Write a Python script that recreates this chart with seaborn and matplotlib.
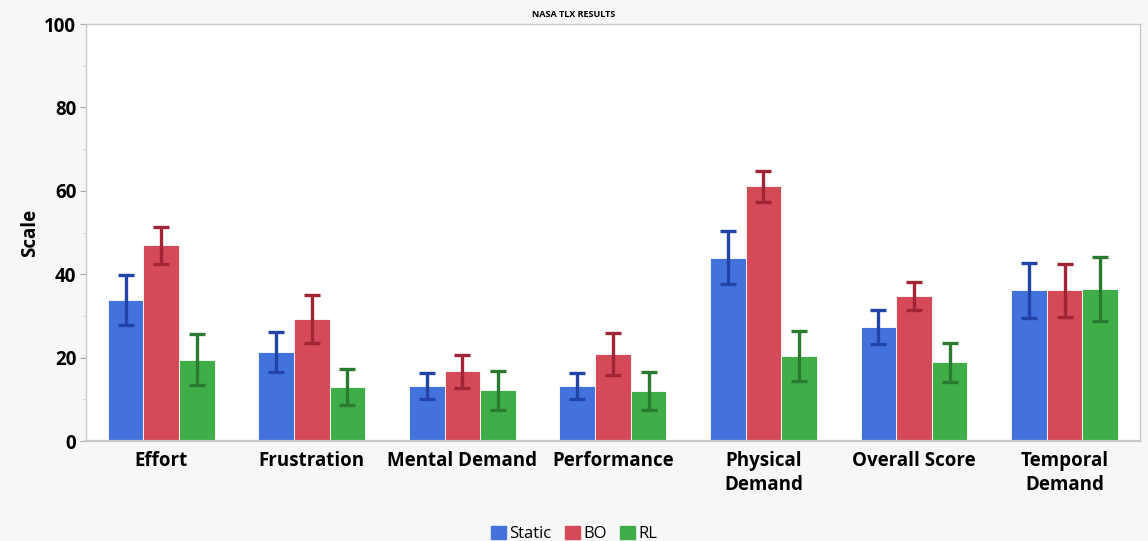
import numpy as np
import pandas as pd
import seaborn as sns
import matplotlib.pyplot as plt
from matplotlib.ticker import MultipleLocator

# values
categories = ["Effort", "Frustration", "Mental Demand", "Performance",
              "Physical\nDemand", "Overall Score", "Temporal\nDemand"]
groups = ["Static", "BO", "RL"]

static_mean = [33.8, 21.4, 13.2, 13.2, 44.0, 27.3, 36.1]
static_err = [6.0, 4.8, 3.2, 3.2, 6.3, 4.1, 6.6]
bo_mean = [46.9, 29.2, 16.7, 20.8, 61.1, 34.8, 36.1]
bo_err = [4.4, 5.8, 3.9, 5.0, 3.7, 3.3, 6.4]
rl_mean = [19.5, 12.9, 12.2, 12.0, 20.3, 18.9, 36.4]
rl_err = [6.1, 4.3, 4.7, 4.5, 6.0, 4.7, 7.7]

bar_colors = ["#4472dc", "#d44a58", "#3fae48"]
err_colors = ["#2244a8", "#a02535", "#2a7a32"]

df = pd.DataFrame({
    "Category": categories * 3,
    "Group": [g for g in groups for _ in categories],
    "Scale": static_mean + bo_mean + rl_mean,
})
errs = [static_err, bo_err, rl_err]

sns.set_style("white")
plt.rcParams["font.family"] = ["Open Sans", "DejaVu Sans"]
plt.rcParams["text.color"] = "black"

fig = plt.figure(figsize=(11.48, 5.41), dpi=100, facecolor="#f7f7f7")
ax = fig.add_axes([0.0749, 0.1848, 0.918, 0.7708])
ax.set_facecolor("white")

sns.barplot(data=df, x="Category", y="Scale", hue="Group", order=categories,
            hue_order=groups, palette=bar_colors, width=0.71, errorbar=None,
            edgecolor="#ffffff", linewidth=0.6, saturation=1, ax=ax)

# error bars, centred on each bar
for cont, e, c in zip(ax.containers, errs, err_colors):
    xs = [p.get_x() + p.get_width() / 2 for p in cont.patches]
    ys = [p.get_height() for p in cont.patches]
    ax.errorbar(xs, ys, yerr=e, fmt="none", ecolor=c, elinewidth=2.4,
                capsize=6, capthick=2.4, zorder=5)

ax.set_ylim(0, 100)
ax.set_xlim(-0.5, len(categories) - 0.5)
ax.yaxis.set_major_locator(MultipleLocator(20))
ax.yaxis.set_minor_locator(MultipleLocator(10))
ax.tick_params(axis="y", which="major", left=True, length=4, color="#aaaaaa",
               labelsize=13.5, labelcolor="black", pad=3)
ax.tick_params(axis="y", which="minor", left=True, length=2.5, color="#cccccc")
ax.tick_params(axis="x", bottom=False, labelsize=13.5, labelcolor="black", pad=4)
for lbl in ax.get_xticklabels() + ax.get_yticklabels():
    lbl.set_fontweight("bold")
    lbl.set_linespacing(1.25)

ax.set_xlabel("")
ax.set_ylabel("Scale", fontsize=13.5, fontweight="bold", color="black", labelpad=3)
for side, sp in ax.spines.items():
    sp.set_color("#c8c8c8")
    sp.set_linewidth(1.0)
ax.spines["bottom"].set_linewidth(1.6)

fig.text(0.5, 0.974, "NASA TLX RESULTS", ha="center", va="center",
         fontsize=6.5, fontweight="bold")

ax.legend_.remove()
handles = [plt.Rectangle((0, 0), 1, 1, color=c) for c in bar_colors]
fig.legend(handles, groups, loc="lower center", bbox_to_anchor=(0.5, -0.03),
           ncol=3, frameon=False, fontsize=12, handlelength=0.9,
           handleheight=0.9, handletextpad=0.2, columnspacing=0.8)

fig.savefig("out.png", dpi=100, facecolor=fig.get_facecolor())
